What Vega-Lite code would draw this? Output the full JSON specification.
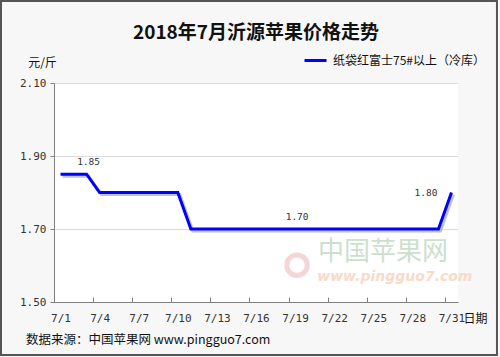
{
  "$schema": "https://vega.github.io/schema/vega-lite/v6.json",
  "width": 404,
  "height": 219,
  "autosize": {"type": "none"},
  "padding": {"left": 54, "top": 83, "right": 42, "bottom": 55},
  "background": "#f7f7f7",
  "title": {
    "text": "2018年7月沂源苹果价格走势",
    "font": "Noto Sans CJK SC",
    "fontSize": 19,
    "fontWeight": "bold",
    "color": "#111111",
    "anchor": "middle",
    "frame": "group",
    "offset": 9,
    "dy": 52
  },
  "datasets": {
    "prices": [
      {"day": 1, "price": 1.85, "series": "纸袋红富士75#以上（冷库）"},
      {"day": 2, "price": 1.85, "series": "纸袋红富士75#以上（冷库）"},
      {"day": 3, "price": 1.85, "series": "纸袋红富士75#以上（冷库）"},
      {"day": 4, "price": 1.80, "series": "纸袋红富士75#以上（冷库）"},
      {"day": 5, "price": 1.80, "series": "纸袋红富士75#以上（冷库）"},
      {"day": 6, "price": 1.80, "series": "纸袋红富士75#以上（冷库）"},
      {"day": 7, "price": 1.80, "series": "纸袋红富士75#以上（冷库）"},
      {"day": 8, "price": 1.80, "series": "纸袋红富士75#以上（冷库）"},
      {"day": 9, "price": 1.80, "series": "纸袋红富士75#以上（冷库）"},
      {"day": 10, "price": 1.80, "series": "纸袋红富士75#以上（冷库）"},
      {"day": 11, "price": 1.70, "series": "纸袋红富士75#以上（冷库）"},
      {"day": 12, "price": 1.70, "series": "纸袋红富士75#以上（冷库）"},
      {"day": 13, "price": 1.70, "series": "纸袋红富士75#以上（冷库）"},
      {"day": 14, "price": 1.70, "series": "纸袋红富士75#以上（冷库）"},
      {"day": 15, "price": 1.70, "series": "纸袋红富士75#以上（冷库）"},
      {"day": 16, "price": 1.70, "series": "纸袋红富士75#以上（冷库）"},
      {"day": 17, "price": 1.70, "series": "纸袋红富士75#以上（冷库）"},
      {"day": 18, "price": 1.70, "series": "纸袋红富士75#以上（冷库）"},
      {"day": 19, "price": 1.70, "series": "纸袋红富士75#以上（冷库）"},
      {"day": 20, "price": 1.70, "series": "纸袋红富士75#以上（冷库）"},
      {"day": 21, "price": 1.70, "series": "纸袋红富士75#以上（冷库）"},
      {"day": 22, "price": 1.70, "series": "纸袋红富士75#以上（冷库）"},
      {"day": 23, "price": 1.70, "series": "纸袋红富士75#以上（冷库）"},
      {"day": 24, "price": 1.70, "series": "纸袋红富士75#以上（冷库）"},
      {"day": 25, "price": 1.70, "series": "纸袋红富士75#以上（冷库）"},
      {"day": 26, "price": 1.70, "series": "纸袋红富士75#以上（冷库）"},
      {"day": 27, "price": 1.70, "series": "纸袋红富士75#以上（冷库）"},
      {"day": 28, "price": 1.70, "series": "纸袋红富士75#以上（冷库）"},
      {"day": 29, "price": 1.70, "series": "纸袋红富士75#以上（冷库）"},
      {"day": 30, "price": 1.70, "series": "纸袋红富士75#以上（冷库）"},
      {"day": 31, "price": 1.80, "series": "纸袋红富士75#以上（冷库）"}
    ],
    "labelsAbove": [
      {"day": 3, "price": 1.85, "label": "1.85"},
      {"day": 19, "price": 1.70, "label": "1.70"}
    ],
    "labelsLeft": [
      {"day": 31, "price": 1.80, "label": "1.80"}
    ],
    "one": [{}]
  },
  "config": {
    "view": {"fill": "#ffffff", "stroke": null},
    "axisX": {
      "domainColor": "#808080",
      "tickColor": "#808080",
      "tickSize": -5,
      "labelFont": "DejaVu Sans Mono",
      "labelFontSize": 11,
      "labelColor": "#333333",
      "labelPadding": 15,
      "labelFlush": false,
      "grid": false,
      "titleFont": "Noto Sans CJK SC",
      "titleFontSize": 12,
      "titleFontWeight": "normal",
      "titleColor": "#111111"
    },
    "axisY": {
      "domainColor": "#808080",
      "tickColor": "#808080",
      "tickSize": 4,
      "labelFont": "DejaVu Sans Mono",
      "labelFontSize": 11,
      "labelColor": "#333333",
      "labelPadding": 4,
      "gridColor": "#dcdcdc",
      "titleFont": "Noto Sans CJK SC",
      "titleFontSize": 12,
      "titleFontWeight": "normal",
      "titleColor": "#111111"
    }
  },
  "layer": [
    {
      "data": {"name": "prices"},
      "mark": {"type": "line", "color": "#9a9a9a", "strokeWidth": 3, "opacity": 0.6, "xOffset": 2, "yOffset": 2},
      "encoding": {
        "x": {
          "field": "day", "type": "quantitative",
          "scale": {"domain": [0.5, 31.5], "nice": false, "zero": false},
          "axis": {
            "values": [0.5, 3.5, 6.5, 9.5, 12.5, 15.5, 18.5, 21.5, 24.5, 27.5, 30.5],
            "labelExpr": "'7/' + (datum.value + 0.5)",
            "labelOffset": 6.5,
            "title": "日期",
            "titleX": 409,
            "titleY": 16,
            "titleAlign": "left",
            "titleBaseline": "middle"
          }
        },
        "y": {
          "field": "price", "type": "quantitative",
          "scale": {"domain": [1.5, 2.1], "nice": false, "zero": false},
          "axis": {
            "values": [1.5, 1.7, 1.9, 2.1],
            "format": ".2f",
            "title": "元/斤",
            "titleAngle": 0,
            "titleX": -12,
            "titleY": -21,
            "titleAlign": "center",
            "titleBaseline": "middle"
          }
        }
      }
    },
    {
      "data": {"name": "prices"},
      "mark": {"type": "line", "strokeWidth": 3},
      "encoding": {
        "x": {"field": "day", "type": "quantitative"},
        "y": {"field": "price", "type": "quantitative"},
        "color": {
          "field": "series", "type": "nominal",
          "scale": {"range": ["#0000ff"]},
          "legend": {
            "title": null,
            "orient": "none",
            "legendX": 249,
            "legendY": -35,
            "symbolType": "stroke",
            "symbolSize": 484,
            "symbolStrokeWidth": 3,
            "labelFont": "Noto Sans CJK SC",
            "labelFontSize": 12,
            "labelColor": "#111111",
            "labelOffset": 5,
            "padding": 0,
            "labelLimit": 300
          }
        }
      }
    },
    {
      "data": {"name": "labelsAbove"},
      "mark": {"type": "text", "font": "DejaVu Sans Mono", "fontSize": 9.5, "color": "#333333", "dy": -12, "dx": 2, "baseline": "middle"},
      "encoding": {
        "x": {"field": "day", "type": "quantitative"},
        "y": {"field": "price", "type": "quantitative"},
        "text": {"field": "label"}
      }
    },
    {
      "data": {"name": "labelsLeft"},
      "mark": {"type": "text", "font": "DejaVu Sans Mono", "fontSize": 9.5, "color": "#333333", "dx": -14, "align": "right", "baseline": "middle"},
      "encoding": {
        "x": {"field": "day", "type": "quantitative"},
        "y": {"field": "price", "type": "quantitative"},
        "text": {"field": "label"}
      }
    },
    {
      "data": {"name": "one"},
      "mark": {"type": "text", "text": "中国苹果网", "font": "Noto Sans CJK SC", "fontSize": 26, "color": "#cde0cd", "align": "left", "baseline": "middle"},
      "encoding": {
        "x": {"datum": 20.76, "type": "quantitative"},
        "y": {"datum": 1.636, "type": "quantitative"}
      }
    },
    {
      "data": {"name": "one"},
      "mark": {"type": "text", "text": "www.pingguo7.com", "font": "DejaVu Sans", "fontSize": 14, "fontStyle": "italic", "fontWeight": "bold", "color": "#f7dac8", "align": "left", "baseline": "middle"},
      "encoding": {
        "x": {"datum": 20.7, "type": "quantitative"},
        "y": {"datum": 1.568, "type": "quantitative"}
      }
    },
    {
      "data": {"name": "one"},
      "mark": {"type": "point", "shape": "circle", "filled": false, "stroke": "#f0c6c6", "strokeWidth": 5, "size": 420},
      "encoding": {
        "x": {"datum": 19.15, "type": "quantitative"},
        "y": {"datum": 1.601, "type": "quantitative"}
      }
    },
    {
      "data": {"name": "one"},
      "mark": {"type": "text", "text": "数据来源：中国苹果网 www.pingguo7.com", "font": "Noto Sans CJK SC", "fontSize": 12.5, "color": "#111111", "align": "left", "baseline": "middle"},
      "encoding": {
        "x": {"datum": -1.65, "type": "quantitative"},
        "y": {"datum": 1.396, "type": "quantitative"}
      }
    },
    {
      "data": {"name": "one"},
      "mark": {"type": "rect", "fill": null, "stroke": "#555555", "strokeWidth": 2},
      "encoding": {
        "x": {"datum": -3.567, "type": "quantitative"},
        "x2": {"datum": 34.49},
        "y": {"datum": 2.3247, "type": "quantitative"},
        "y2": {"datum": 1.3548}
      }
    }
  ]
}
